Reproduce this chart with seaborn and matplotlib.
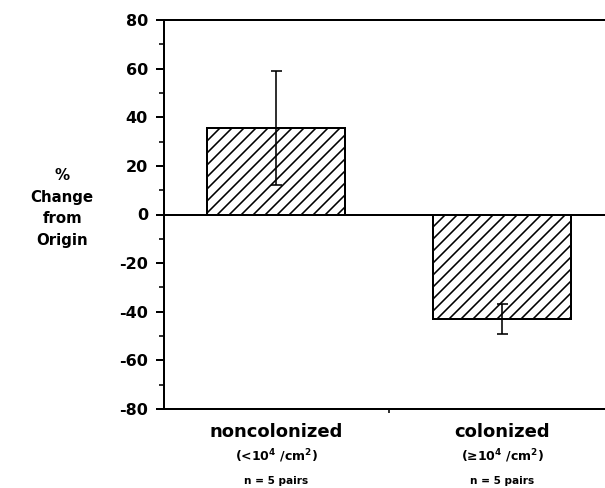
import matplotlib
matplotlib.use("Agg")
import matplotlib.pyplot as plt
import matplotlib.transforms as mtransforms
import seaborn as sns
import pandas as pd
from matplotlib.ticker import MultipleLocator, FixedLocator

categories = ["noncolonized", "colonized"]
sublabels = ["(<10$^{4}$ /cm$^{2}$)", "(\u226510$^{4}$ /cm$^{2}$)"]
nlabels = ["n = 5 pairs", "n = 5 pairs"]
values = [35.5, -43.0]
errors = [23.5, 6.3]
yticks = [-80, -60, -40, -20, 0, 20, 40, 60, 80]

sns.set_style("ticks")
plt.rcParams["font.family"] = ["DejaVu Sans"]
plt.rcParams["font.weight"] = "bold"
plt.rcParams["mathtext.default"] = "bf"
plt.rcParams["text.color"] = "black"
plt.rcParams["xtick.color"] = "black"
plt.rcParams["ytick.color"] = "black"
plt.rcParams["hatch.linewidth"] = 1.6
plt.rcParams["hatch.color"] = "black"

DPI = 72
fig = plt.figure(figsize=(605 / DPI, 488 / DPI), dpi=DPI)
ax = fig.add_axes([164 / 605, 79 / 488, 441 / 605, 389 / 488])

df = pd.DataFrame({"cat": categories, "val": values})
sns.barplot(data=df, x="cat", y="val", order=categories, color="white",
            edgecolor="black", linewidth=2, width=0.61, errorbar=None, ax=ax,
            saturation=1)
for p in ax.patches:
    p.set_hatch("//")
    p.set_facecolor("white")
    p.set_edgecolor("black")

ax.errorbar(x=[0, 1], y=values, yerr=errors, fmt="none", ecolor="black",
            elinewidth=1.6, capsize=5.5, capthick=1.6, zorder=5)

ax.axhline(0, color="black", lw=2, zorder=4)

ax.set_xlim(-0.496, 1.456)
ax.set_ylim(-80, 80)
ax.set_yticks(yticks)
ax.yaxis.set_minor_locator(MultipleLocator(10))
ax.set_yticklabels([str(t) for t in yticks], fontsize=16, fontweight="bold",
                   color="black")
ax.tick_params(axis="y", which="major", length=8, width=2, pad=8, direction="out",
               colors="black")
ax.tick_params(axis="y", which="minor", length=5, width=1.6, direction="out",
               colors="black")

ax.set_xticks([])
ax.xaxis.set_minor_locator(FixedLocator([0.5]))
ax.tick_params(axis="x", which="minor", length=4, width=1.6, direction="out",
               colors="black")
ax.set_xlabel("")
ax.set_ylabel("")

for s in ["left", "top", "bottom"]:
    ax.spines[s].set_visible(True)
    ax.spines[s].set_linewidth(2)
    ax.spines[s].set_color("black")
ax.spines["right"].set_visible(False)

trans = mtransforms.blended_transform_factory(ax.transData, ax.transAxes)
for i, (c, s, n) in enumerate(zip(categories, sublabels, nlabels)):
    ax.text(i, -0.059, c, transform=trans, ha="center", va="center",
            fontsize=18, fontweight="bold", color="black")
    ax.text(i, -0.122, s, transform=trans, ha="center", va="center",
            fontsize=12.5, fontweight="bold", color="black")
    ax.text(i, -0.186, n, transform=trans, ha="center", va="center",
            fontsize=10.5, fontweight="bold", color="black")

ax.text(-0.231, 0.517, "%\nChange\nfrom\nOrigin", transform=ax.transAxes,
        ha="center", va="center", fontsize=15, fontweight="bold",
        linespacing=1.55, multialignment="center", color="black")

fig.savefig("out.png", dpi=DPI, facecolor="white")
